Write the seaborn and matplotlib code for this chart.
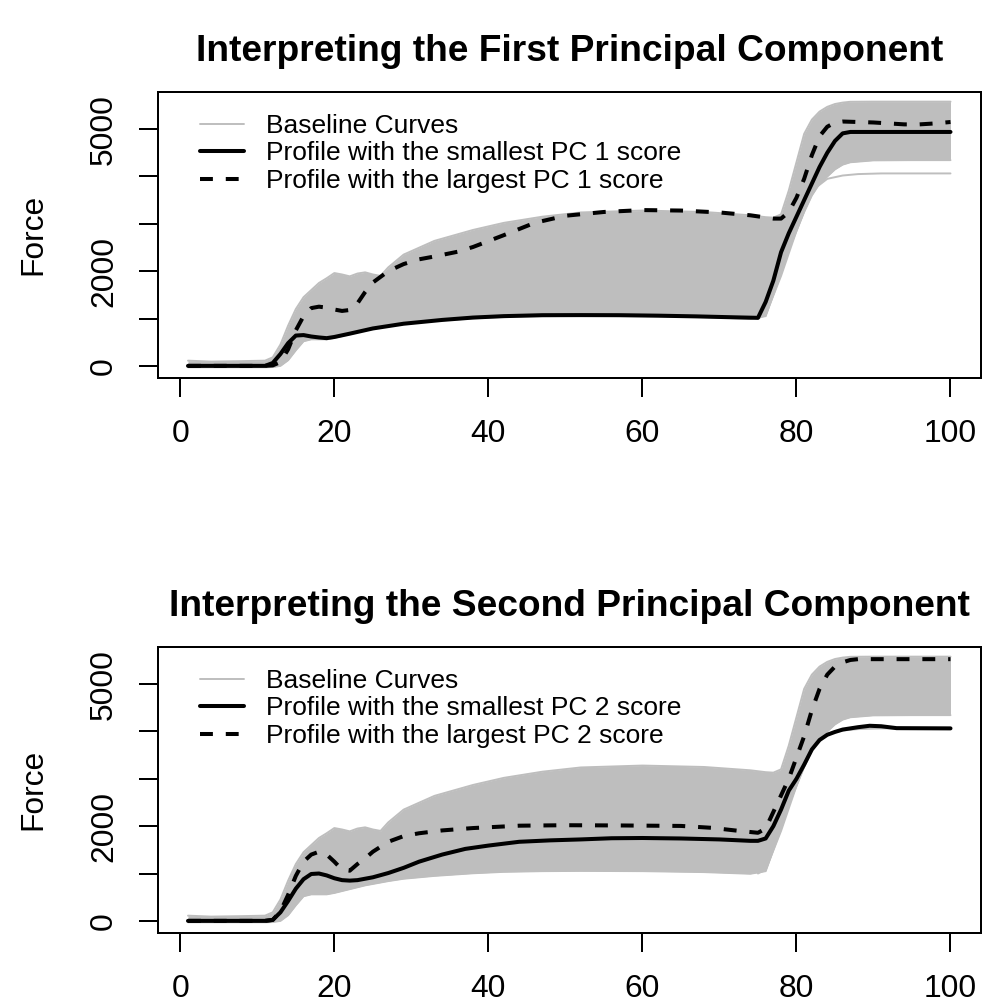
import matplotlib
matplotlib.use("Agg")
import matplotlib.pyplot as plt
import seaborn as sns
import pandas as pd

# ---------------------------------------------------------------------------
# Baseline curve bundle (shared by both panels): lower edge, upper edge and a
# low-plateau curve that sits below the bulk after the second rise.
base_x = [1, 4, 8, 11, 12, 13, 14, 15, 16, 17, 18, 19, 20, 21, 22, 23, 24, 25,
          26, 27, 29, 33, 38, 42, 47, 52, 60, 68, 74, 76, 77, 78, 79, 80, 81,
          82, 83, 84, 85, 86, 87, 90, 95, 100]
base_low = [-30, -30, -30, -30, -25, 0, 120, 330, 520, 560, 560, 560, 590, 630,
            670, 710, 750, 780, 810, 840, 890, 950, 1005, 1035, 1050, 1055,
            1050, 1030, 995, 1050, 1500, 1950, 2450, 2850, 3250, 3600, 3850,
            4000, 4150, 4250, 4300, 4340, 4345, 4345]
base_high = [110, 90, 100, 110, 180, 450, 850, 1200, 1450, 1600, 1750, 1850,
             1960, 1930, 1890, 1950, 1975, 1930, 1900, 2080, 2350, 2640, 2870,
             3020, 3150, 3240, 3280, 3250, 3180, 3140, 3130, 3200, 3700, 4300,
             4900, 5200, 5370, 5470, 5530, 5560, 5577, 5580, 5580, 5580]
base_out_x = [75, 76, 78, 80, 82, 84, 86, 88, 91, 100]
base_out_y = [1000, 1080, 1900, 2850, 3700, 3950, 4020, 4050, 4064, 4064]

# Extreme profiles along the first principal component
pc1_small_x = [1, 5, 11, 12, 13, 14, 15, 16, 17, 18, 19, 20, 22, 25, 29, 34, 38,
               42, 47, 52, 57, 62, 67, 72, 75, 76, 77, 78, 79, 80, 81, 82, 83,
               84, 85, 86, 87, 90, 95, 100]
pc1_small_y = [0, 0, 0, 60, 250, 480, 640, 650, 620, 600, 585, 610, 680, 790,
               890, 970, 1020, 1050, 1070, 1072, 1070, 1060, 1045, 1025, 1014,
               1350, 1800, 2400, 2800, 3150, 3500, 3850, 4200, 4500, 4750,
               4910, 4940, 4940, 4940, 4940]
pc1_large_x = [1, 5, 11, 12, 13, 14, 15, 16, 17, 18, 19, 20, 21, 22, 23, 24, 25,
               27, 29, 31, 33, 36, 38, 42, 46, 50, 55, 60, 65, 70, 74, 77, 78,
               79, 80, 81, 82, 83, 84, 85, 86, 88, 90, 92, 94, 96, 98, 100]
pc1_large_y = [0, 0, 0, 10, 80, 350, 750, 1050, 1220, 1250, 1230, 1190, 1160,
               1180, 1320, 1560, 1760, 2000, 2150, 2250, 2310, 2410, 2510, 2760,
               3020, 3170, 3250, 3290, 3280, 3240, 3180, 3110, 3110, 3250, 3550,
               3950, 4450, 4850, 5050, 5140, 5160, 5150, 5140, 5120, 5100, 5100,
               5120, 5150]

# Extreme profiles along the second principal component
pc2_small_x = [1, 5, 11, 12, 13, 14, 15, 16, 17, 18, 19, 20, 21, 22, 23, 25, 27,
               29, 31, 34, 37, 40, 44, 48, 52, 56, 60, 65, 70, 74, 75, 76, 77,
               78, 79, 80, 81, 82, 83, 84, 85, 86, 88, 89.5, 91, 93, 100]
pc2_small_y = [0, 0, 0, 20, 180, 420, 680, 880, 990, 1000, 960, 900, 860, 850,
               860, 920, 1010, 1120, 1250, 1400, 1520, 1590, 1670, 1700, 1720,
               1745, 1750, 1740, 1720, 1690, 1690, 1740, 2000, 2350, 2750, 3000,
               3300, 3620, 3820, 3930, 3990, 4040, 4090, 4120, 4110, 4070, 4065]
pc2_large_x = [1, 5, 11, 12, 13, 14, 15, 16, 17, 18, 19, 20, 21, 22, 23, 24, 25,
               27, 29, 31, 34, 38, 44, 50, 57, 65, 69, 72, 75, 76, 77, 78, 79,
               80, 81, 82, 83, 84, 85, 86, 87, 88, 100]
pc2_large_y = [0, 0, 0, 20, 200, 550, 950, 1250, 1400, 1460, 1400, 1250, 1080,
               1060, 1200, 1320, 1460, 1670, 1790, 1850, 1910, 1960, 2010, 2020,
               2015, 2005, 1965, 1910, 1860, 1950, 2300, 2650, 3000, 3450, 3900,
               4450, 4900, 5200, 5370, 5460, 5510, 5527, 5527]

titles = ["Interpreting the First Principal Component",
          "Interpreting the Second Principal Component"]
legend_labels = ["Baseline Curves",
                 "Profile with the smallest PC {} score",
                 "Profile with the largest PC {} score"]
x_ticks = [0, 20, 40, 60, 80, 100]
y_ticks = [0, 1000, 2000, 3000, 4000, 5000]
y_tick_labels = ["0", "", "2000", "", "", "5000"]
y_label = "Force"

GRAY = "#BEBEBE"

sns.set_theme(style="white")
plt.rcParams["font.family"] = ["Liberation Sans", "DejaVu Sans"]

fig = plt.figure(figsize=(9.82, 10.08), dpi=100)
ax_top = fig.add_axes([0.16039, 0.62530, 0.83859, 0.28373])
ax_bot = fig.add_axes([0.16039, 0.07470, 0.83859, 0.28373])

panels = [
    (ax_top, titles[0], 1, pc1_small_x, pc1_small_y, pc1_large_x, pc1_large_y),
    (ax_bot, titles[1], 2, pc2_small_x, pc2_small_y, pc2_large_x, pc2_large_y),
]

for ax, title, k, sx, sy, lx, ly in panels:
    # bundle of baseline curves
    ax.fill_between(base_x, base_low, base_high, color=GRAY, lw=0, zorder=1)
    sns.lineplot(x=base_x, y=base_low, ax=ax, color=GRAY, lw=1.4,
                 estimator=None, sort=False, zorder=1.5,
                 label=legend_labels[0])
    sns.lineplot(x=base_x, y=base_high, ax=ax, color=GRAY, lw=1.4,
                 estimator=None, sort=False, zorder=1.5)
    sns.lineplot(x=base_out_x, y=base_out_y, ax=ax, color=GRAY, lw=1.4,
                 estimator=None, sort=False, zorder=1.5)

    # extreme profiles
    sns.lineplot(x=sx, y=sy, ax=ax, color="black", lw=2.9,
                 estimator=None, sort=False, zorder=3,
                 label=legend_labels[1].format(k))
    sns.lineplot(x=lx, y=ly, ax=ax, color="black", lw=2.9,
                 linestyle=(0, (3.2, 3.2)), estimator=None, sort=False,
                 zorder=3, label=legend_labels[2].format(k))

    ax.set_xlim(-2.96, 103.96)
    ax.set_ylim(-250, 5790)
    ax.set_xticks(x_ticks)
    ax.set_xticklabels([str(t) for t in x_ticks])
    ax.set_yticks(y_ticks)
    ax.set_yticklabels(y_tick_labels, rotation=90, va="center")
    ax.tick_params(axis="both", direction="out", length=13.7, width=1.44,
                   color="black", labelsize=22.9, labelcolor="black",
                   bottom=True, left=True, top=False, right=False)
    ax.tick_params(axis="x", pad=16)
    ax.tick_params(axis="y", pad=14)
    ax.set_xlabel("")
    ax.set_ylabel(y_label, fontsize=22.9, color="black")
    ax.yaxis.set_label_coords(-0.1325, 0.5)
    ax.set_title(title, fontsize=26.7, fontweight="bold", pad=22,
                 color="black")
    for sp in ax.spines.values():
        sp.set_visible(True)
        sp.set_color("black")
        sp.set_linewidth(1.44)
        sp.set_zorder(4)

    handles, labels = ax.get_legend_handles_labels()
    leg = ax.legend(handles, labels, loc="upper left",
                    bbox_to_anchor=(0.0516, 0.922), frameon=False,
                    fontsize=19, handlelength=1.65, handletextpad=0.85,
                    borderpad=0, borderaxespad=0, labelspacing=0.13)
    for t in leg.get_texts():
        t.set_color("black")

fig.savefig("out.png", dpi=100)
